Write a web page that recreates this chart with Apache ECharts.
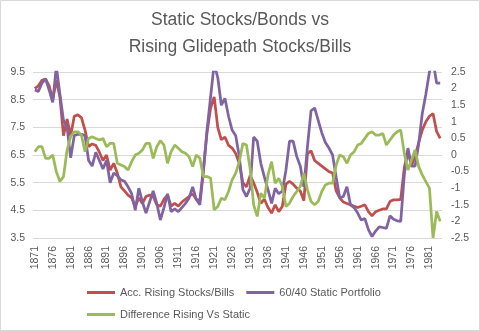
<!DOCTYPE html>
<html>
<head>
<meta charset="utf-8">
<script src="https://cdn.jsdelivr.net/npm/echarts@6/dist/echarts.min.js"></script>
<style>
  html, body { margin: 0; padding: 0; background: #fff; }
  #chart { width: 480px; height: 331px; }
</style>
</head>
<body>
<div id="chart"></div>
<script>
// Years 1871..1984
const years = [];
for (let y = 1871; y <= 1984; y++) years.push(String(y));

// Title lines
const titleLines = ['Static Stocks/Bonds vs', 'Rising Glidepath Stocks/Bills'];

// Accumulating rising-equity glidepath (stocks/bills), left axis
const risingStocksBills = [
  8.9, 9.0, 9.2, 9.25, 9.0, 8.5, 9.2, 8.6, 7.2, 7.8,
  7.2, 7.9, 7.95, 7.85, 7.4, 6.8, 6.9, 6.85, 6.6, 6.3,
  6.5, 5.95, 6.2, 5.85, 5.35, 5.2, 5.05, 4.95, 4.65, 4.95,
  4.75, 5.0, 5.05, 5.0, 4.7, 4.65, 4.9, 5.05, 4.65, 4.75,
  4.65, 4.8, 4.9, 5.0, 5.1, 4.9, 4.85, 6.0, 7.3, 8.2,
  8.6, 7.5, 7.05, 7.15, 6.85, 6.75, 6.55, 6.2, 5.5, 5.35,
  5.75, 5.5, 5.15, 4.75, 4.9, 4.6, 4.4, 4.7, 4.45, 4.65,
  5.45, 5.55, 5.45, 5.3, 5.2, 4.85, 6.55, 6.65, 6.3, 6.2,
  6.1, 6.0, 5.9, 5.85, 5.2, 4.95, 4.8, 4.75, 4.7, 4.65,
  4.6, 4.65, 4.7, 4.45, 4.3, 4.45, 4.5, 4.55, 4.55, 4.82,
  4.88, 4.88, 4.9, 6.05, 6.65, 6.1, 6.45, 6.95, 7.4, 7.7,
  7.9, 8.0, 7.35, 7.1
];

// 60/40 static portfolio, left axis
const staticPortfolio = [
  8.85, 8.8, 9.1, 9.25, 8.85, 8.4, 9.7, 8.7, 7.75, 7.5,
  6.4, 7.2, 7.25, 7.25, 7.2, 6.3, 6.1, 6.6, 6.3, 6.0,
  6.3, 5.5, 5.85, 5.75, 5.6, 5.55, 5.35, 5.1, 4.5, 5.3,
  4.8, 4.4, 4.8, 5.2, 4.75, 4.15, 4.6, 5.1, 4.45, 4.55,
  4.45, 4.6, 4.75, 4.95, 5.35, 4.9, 4.7, 5.9, 7.4, 8.6,
  9.8, 9.3, 8.3, 8.55, 7.9, 7.4, 7.2, 6.45, 5.25, 5.0,
  5.3, 7.15, 7.0, 6.2, 5.7, 5.25, 4.75, 5.3, 5.1, 5.2,
  5.95, 7.0, 7.0, 6.45, 6.1, 5.35, 6.8, 8.1, 8.2, 7.75,
  7.3, 6.95, 6.75, 6.5, 5.7, 4.95, 5.0, 5.35, 4.7, 4.6,
  4.4, 4.15, 4.2, 3.8, 3.55, 3.75, 3.9, 3.88, 3.85, 4.3,
  4.18, 4.12, 4.1, 5.8, 6.75, 6.1, 6.1, 6.9, 8.0, 8.7,
  9.5, 9.9, 9.1, 9.1
];

// Difference rising vs static, right axis
const differenceRisingVsStatic = [
  0.1, 0.25, 0.25, -0.1, -0.1, 0.0, -0.5, -0.8, -0.65, 0.15,
  0.55, 0.7, 0.7, 0.6, 0.1, 0.5, 0.55, 0.5, 0.45, 0.5,
  0.25, 0.35, 0.35, -0.25, -0.3, -0.35, -0.45, -0.2, 0.0, 0.05,
  0.15, 0.35, 0.35, -0.1, 0.25, 0.43, 0.3, -0.25, 0.1, 0.3,
  0.2, 0.1, 0.05, -0.05, -0.35, 0.0, -0.1, -0.65, -0.65, -0.7,
  -1.65, -1.55, -1.3, -1.35, -1.1, -0.75, -0.55, -0.2, 0.35, 0.3,
  -0.4, -1.5, -1.85, -1.15, -1.3, -0.6, -0.2, -0.85, -0.7, -0.95,
  -1.55, -1.45, -1.25, -1.1, -0.95, -0.55, -1.05, -1.4, -1.5, -1.4,
  -1.1, -0.9, -0.85, -0.85, -0.3, 0.0, -0.05, -0.25, 0.0, 0.1,
  0.3, 0.35, 0.5, 0.65, 0.7, 0.6, 0.6, 0.65, 0.3, 0.45,
  0.6, 0.7, 0.75, 0.05, -0.45, -0.15, 0.15, -0.35, -0.6, -0.8,
  -1.0, -2.5, -1.7, -2.0
];

const leftTicks = { min: 3.5, max: 9.5, interval: 1 };
const rightTicks = { min: -2.5, max: 2.5, interval: 0.5 };

const font = 'Liberation Sans, Arial, sans-serif';
const textGrey = '#595959';
const gridGrey = '#d9d9d9';

const chart = echarts.init(document.getElementById('chart'), null, { renderer: 'canvas' });

const titleStyle = {
  fontFamily: font,
  fontSize: 17.5,
  fontWeight: 'normal',
  color: textGrey
};

const legendCommon = {
  icon: 'rect',
  itemWidth: 28,
  itemHeight: 3,
  itemGap: 12,
  textStyle: { fontFamily: font, fontSize: 11, color: textGrey }
};

chart.setOption({
  animation: false,
  backgroundColor: '#ffffff',
  title: [
    { text: titleLines[0], left: 'center', top: 6, textStyle: titleStyle },
    { text: titleLines[1], left: 'center', top: 33, textStyle: titleStyle }
  ],
  graphic: [{
    type: 'rect',
    shape: { x: 0.5, y: 0.5, width: 479, height: 330 },
    style: { fill: 'none', stroke: gridGrey, lineWidth: 1 },
    silent: true
  }],
  legend: [
    Object.assign({
      data: ['Acc. Rising Stocks/Bills', '60/40 Static Portfolio'],
      left: 82,
      top: 282
    }, legendCommon),
    Object.assign({
      data: ['Difference Rising Vs Static'],
      left: 82,
      top: 304
    }, legendCommon)
  ],
  grid: { left: 33, right: 38, top: 72, bottom: 93, containLabel: false },
  xAxis: {
    type: 'category',
    data: years,
    boundaryGap: true,
    axisLine: { show: true, lineStyle: { color: gridGrey } },
    axisTick: { show: false },
    axisLabel: {
      interval: 4,
      rotate: 90,
      margin: 8,
      fontFamily: font,
      fontSize: 10.5,
      color: textGrey
    },
    splitLine: { show: false }
  },
  yAxis: [{
    type: 'value',
    position: 'left',
    min: leftTicks.min,
    max: leftTicks.max,
    interval: leftTicks.interval,
    axisLine: { show: false },
    axisTick: { show: false },
    axisLabel: { fontFamily: font, fontSize: 10.5, color: textGrey, margin: 8 },
    splitLine: { show: true, lineStyle: { color: gridGrey, width: 1 } }
  }, {
    type: 'value',
    position: 'right',
    min: rightTicks.min,
    max: rightTicks.max,
    interval: rightTicks.interval,
    axisLine: { show: false },
    axisTick: { show: false },
    axisLabel: { fontFamily: font, fontSize: 10.5, color: textGrey, margin: 9 },
    splitLine: { show: false }
  }],
  series: [{
    name: 'Acc. Rising Stocks/Bills',
    type: 'line',
    yAxisIndex: 0,
    data: risingStocksBills,
    showSymbol: false,
    symbol: 'none',
    clip: true,
    lineStyle: { color: '#c0504d', width: 2.75 },
    itemStyle: { color: '#c0504d' },
    z: 3
  }, {
    name: '60/40 Static Portfolio',
    type: 'line',
    yAxisIndex: 0,
    data: staticPortfolio,
    showSymbol: false,
    symbol: 'none',
    clip: true,
    lineStyle: { color: '#8064a2', width: 2.75 },
    itemStyle: { color: '#8064a2' },
    z: 4
  }, {
    name: 'Difference Rising Vs Static',
    type: 'line',
    yAxisIndex: 1,
    data: differenceRisingVsStatic,
    showSymbol: false,
    symbol: 'none',
    clip: true,
    lineStyle: { color: '#9bbb59', width: 2.75 },
    itemStyle: { color: '#9bbb59' },
    z: 5
  }]
});
</script>
</body>
</html>
